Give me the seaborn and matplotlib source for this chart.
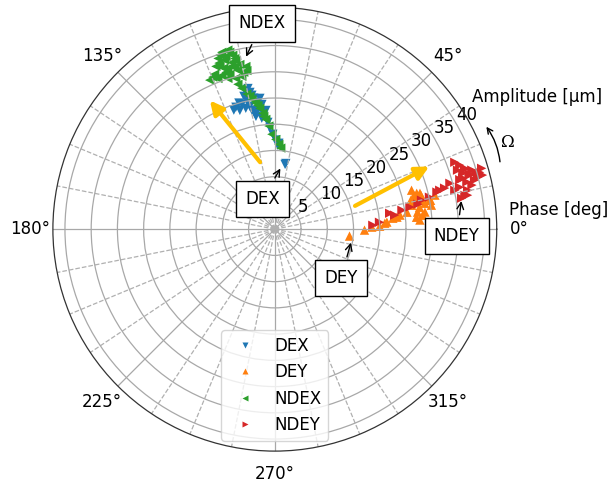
import seaborn as sns
import matplotlib.pyplot as plt
import numpy as np
import pandas as pd
from matplotlib.ticker import FixedLocator

# phase [deg] and amplitude [um]
dex_phase = [102.2, 100.3, 99.1, 102.2, 104.8, 107.7, 101.5, 98.1, 95.9, 98.1, 95.5, 99.8,
             103.1, 106.4, 96.7, 93.7, 92.8, 91.2, 89.4, 88.0, 80.5, 81.0,
             100.8, 99.7, 105.9, 103.5, 100.9, 96.5, 94.3, 109.0, 99.5, 87.3]
dex_amp = [27.1, 26.5, 25.3, 25.1, 24.6, 24.4, 23.9, 24.4, 23.9, 22.9, 22.0, 22.4,
           26.0, 23.6, 21.3, 20.4, 19.3, 18.1, 17.0, 16.0, 12.7, 12.5,
           27.3, 25.9, 25.0, 23.7, 23.1, 25.1, 22.7, 24.0, 21.8, 16.4]

dey_phase = [-5.3, -0.6, 1.2, 1.6, 3.6, 5.3, 6.4, 7.3, 15.9, 14.2, 11.7, 11.2, 11.8, 12.0,
             8.6, 4.8, 3.6, 6.5, 9.9, 13.0, 10.5,
             13.7, 13.9, 9.8, 10.6, 6.8, 5.4, 12.0, 8.7, 5.6, 3.1]
dey_amp = [14.3, 17.1, 18.5, 20.0, 21.4, 22.6, 24.0, 25.4, 27.1, 27.9, 27.2, 28.5, 29.8, 31.2,
           27.9, 27.1, 27.7, 28.8, 26.5, 28.6, 30.2,
           27.3, 28.5, 29.0, 30.0, 27.4, 28.3, 26.5, 30.2, 23.4, 21.0]

ndex_phase = [106.7, 104.7, 103.6, 108.4, 106.5, 104.4, 108.6, 106.3, 103.9, 111.2, 113.6,
              109.0, 106.2, 102.0, 100.1, 101.2, 104.5, 104.3, 103.2, 101.7, 100.0, 98.6,
              97.1, 95.9, 94.7, 93.3, 91.8, 87.3, 85.8, 105.8, 108.6, 103.0, 107.3, 112.2,
              107.5, 104.3, 103.2, 107.6, 109.9, 104.8, 103.1, 107.3, 110.7, 102.2, 100.0,
              100.6, 97.8, 95.6, 89.4]
ndex_amp = [35.2, 35.3, 34.1, 34.3, 33.6, 32.8, 32.8, 31.9, 31.8, 31.7, 31.0,
            31.0, 30.7, 32.1, 31.5, 30.5, 29.7, 28.5, 27.6, 26.3, 25.1, 24.3,
            23.2, 22.2, 21.0, 19.7, 18.1, 16.2, 15.5, 34.2, 33.4, 33.0, 31.3, 31.3,
            34.8, 34.8, 33.4, 32.2, 33.0, 32.1, 31.1, 30.1, 30.7, 29.8, 30.7,
            25.8, 23.8, 21.6, 17.1]

ndey_phase = [2.3, 7.9, 8.5, 9.3, 11.2, 11.7, 13.3, 14.7, 20.4, 17.9, 16.6, 16.7, 15.5, 14.6,
              13.8, 13.8, 12.8, 11.4, 10.1, 9.4, 14.4, 12.9, 15.8, 17.5, 15.0,
              19.1, 17.8, 15.5, 15.8, 16.4, 12.6, 15.2, 12.2, 13.6, 10.0, 3.8, 6.7, 9.9]
ndey_amp = [18.7, 22.1, 24.5, 26.1, 28.5, 30.1, 32.3, 34.5, 36.6, 36.6, 37.4, 39.2, 40.5, 40.9,
            39.2, 37.7, 36.1, 37.5, 36.8, 36.1, 39.9, 31.7, 38.5, 38.0, 36.5,
            37.3, 38.0, 38.5, 39.8, 41.1, 38.5, 37.1, 35.1, 33.3, 37.3, 20.0, 23.0, 27.7]

series = ["DEX", "DEY", "NDEX", "NDEY"]
markers = {"DEX": "v", "DEY": "^", "NDEX": "<", "NDEY": ">"}
palette = {"DEX": "tab:blue", "DEY": "tab:orange", "NDEX": "tab:green", "NDEY": "tab:red"}

frames = []
for name, ph, amp in zip(series, [dex_phase, dey_phase, ndex_phase, ndey_phase],
                         [dex_amp, dey_amp, ndex_amp, ndey_amp]):
    frames.append(pd.DataFrame({"theta": np.deg2rad(ph), "r": amp, "series": name}))
df = pd.concat(frames, ignore_index=True)

fig = plt.figure(figsize=(6.08, 4.83), dpi=100)
ax = fig.add_axes([0.087, 0.066, 0.730, 0.919], projection="polar")

sns.scatterplot(data=df, x="theta", y="r", hue="series", style="series", markers=markers,
                palette=palette, s=45, edgecolor="none", ax=ax)
ax.set_xlabel("")
ax.set_ylabel("")

ax.set_ylim(0, 42.3)
ax.set_rticks([5, 10, 15, 20, 25, 30, 35, 40])
ax.set_rlabel_position(30)
# 90 deg label falls outside the figure, leave it empty
ax.set_thetagrids(range(0, 360, 45),
                  labels=["0°", "45°", "", "135°", "180°", "225°", "270°", "315°"])
ax.xaxis.set_minor_locator(FixedLocator(np.deg2rad(np.arange(0, 360, 11.25))))
ax.grid(True, which="major", color="#a8a8a8", lw=0.9)
ax.grid(True, which="minor", color="#b0b0b0", lw=0.9, ls="--")
ax.spines["polar"].set_color("#333333")
ax.spines["polar"].set_linewidth(0.9)
ax.tick_params(labelsize=12)
ax.tick_params(axis="x", pad=6)

def p(deg, r):
    return (np.deg2rad(deg), r)

box = dict(boxstyle="square,pad=0.55", fc="w", ec="k")
notes = [("NDEX", p(100.0, 32.9), p(93.6, 39.3)),
         ("DEX", p(83.7, 12.1), p(112.0, 6.2)),
         ("DEY", p(-8.0, 14.8), p(-36.6, 15.7)),
         ("NDEY", p(9.4, 36.1), p(-2.2, 34.7))]
for txt, xy, xytext in notes:
    ax.annotate(txt, xy=xy, xytext=xytext, ha="center", va="center", fontsize=12, bbox=box,
                arrowprops=dict(arrowstyle="->", color="k", lw=1), annotation_clip=False)

# trend arrows
for tail, head in [(p(101.3, 12.6), p(117.0, 28.0)), (p(15.8, 15.4), p(22.2, 32.3))]:
    ax.annotate("", xy=head, xytext=tail,
                arrowprops=dict(arrowstyle="-|>", color="#ffc000", lw=3, mutation_scale=20))

# rotation direction
ax.annotate("", xy=p(26.5, 44.7), xytext=p(16.0, 44.7), annotation_clip=False,
            arrowprops=dict(arrowstyle="->", color="k", lw=1, connectionstyle="arc3,rad=0.15"))
fig.text(0.836, 0.704, "Ω", fontsize=12, family="DejaVu Serif", ha="center", va="center")
fig.text(0.883, 0.799, "Amplitude [µm]", fontsize=12, ha="center", va="center")
fig.text(0.918, 0.565, "Phase [deg]", fontsize=12, ha="center", va="center")

ax.legend(loc="lower center", bbox_to_anchor=(0.5, 0.005), fontsize=12, markerscale=0.7,
          handletextpad=0.8, borderpad=0.4)

fig.savefig("out.png", dpi=100)
